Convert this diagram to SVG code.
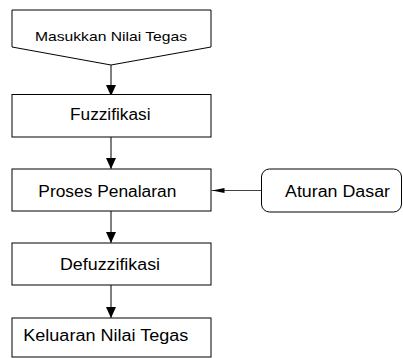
<svg xmlns="http://www.w3.org/2000/svg" width="403" height="358" viewBox="0 0 403 358">
<defs>
<marker id="ah" markerWidth="10" markerHeight="11" refX="11" refY="5" orient="auto" markerUnits="userSpaceOnUse">
<path d="M0,0 L11,5 L0,10 Z" fill="#000"/>
</marker>
<marker id="ah2" markerWidth="13" markerHeight="6" refX="13" refY="2.5" orient="auto" markerUnits="userSpaceOnUse">
<path d="M0,0 L13,2.5 L0,5 Z" fill="#000"/>
</marker>
<style>
.box{fill:#fff;stroke:#000;stroke-width:1}
.t{font-family:"Liberation Sans",Arial,sans-serif;font-size:16px;fill:#000}
.c{stroke:#000;stroke-width:1;fill:none}
</style>
</defs>
<rect width="403" height="358" fill="#fff"/>
<g id="connectors">
<line class="c" x1="111" y1="65" x2="111" y2="96" marker-end="url(#ah)"/>
<line class="c" x1="111" y1="137" x2="111" y2="169" marker-end="url(#ah)"/>
<line class="c" x1="111" y1="211" x2="111" y2="243" marker-end="url(#ah)"/>
<line class="c" x1="111" y1="285" x2="111" y2="318" marker-end="url(#ah)"/>
<line class="c" x1="261" y1="190.5" x2="211.5" y2="190.5" marker-end="url(#ah2)" style="stroke:#444"/>
</g>
<g id="masukkan">
<path class="box" d="M12,10 L211,10 L211,47 L111,65 L12,47 Z"/>
<text class="t" x="35" y="40.5" style="font-size:13px" textLength="152" lengthAdjust="spacingAndGlyphs">Masukkan Nilai Tegas</text>
</g>
<g id="fuzzifikasi">
<rect class="box" x="12" y="94.5" width="199" height="42.5"/>
<text class="t" x="70" y="120" textLength="80.5" lengthAdjust="spacingAndGlyphs">Fuzzifikasi</text>
</g>
<g id="proses">
<rect class="box" x="12" y="169" width="199" height="42"/>
<text class="t" x="38.3" y="197" textLength="138" lengthAdjust="spacingAndGlyphs">Proses Penalaran</text>
</g>
<g id="aturan">
<rect class="box" x="261.5" y="169" width="140" height="43" rx="8"/>
<text class="t" x="285" y="196.7" textLength="105" lengthAdjust="spacingAndGlyphs">Aturan Dasar</text>
</g>
<g id="defuzzifikasi">
<rect class="box" x="12" y="243" width="199" height="42"/>
<text class="t" x="60" y="270" textLength="100" lengthAdjust="spacingAndGlyphs">Defuzzifikasi</text>
</g>
<g id="keluaran">
<rect class="box" x="12" y="318" width="199" height="39"/>
<text class="t" x="23.3" y="341.3" textLength="165" lengthAdjust="spacingAndGlyphs">Keluaran Nilai Tegas</text>
</g>
</svg>
